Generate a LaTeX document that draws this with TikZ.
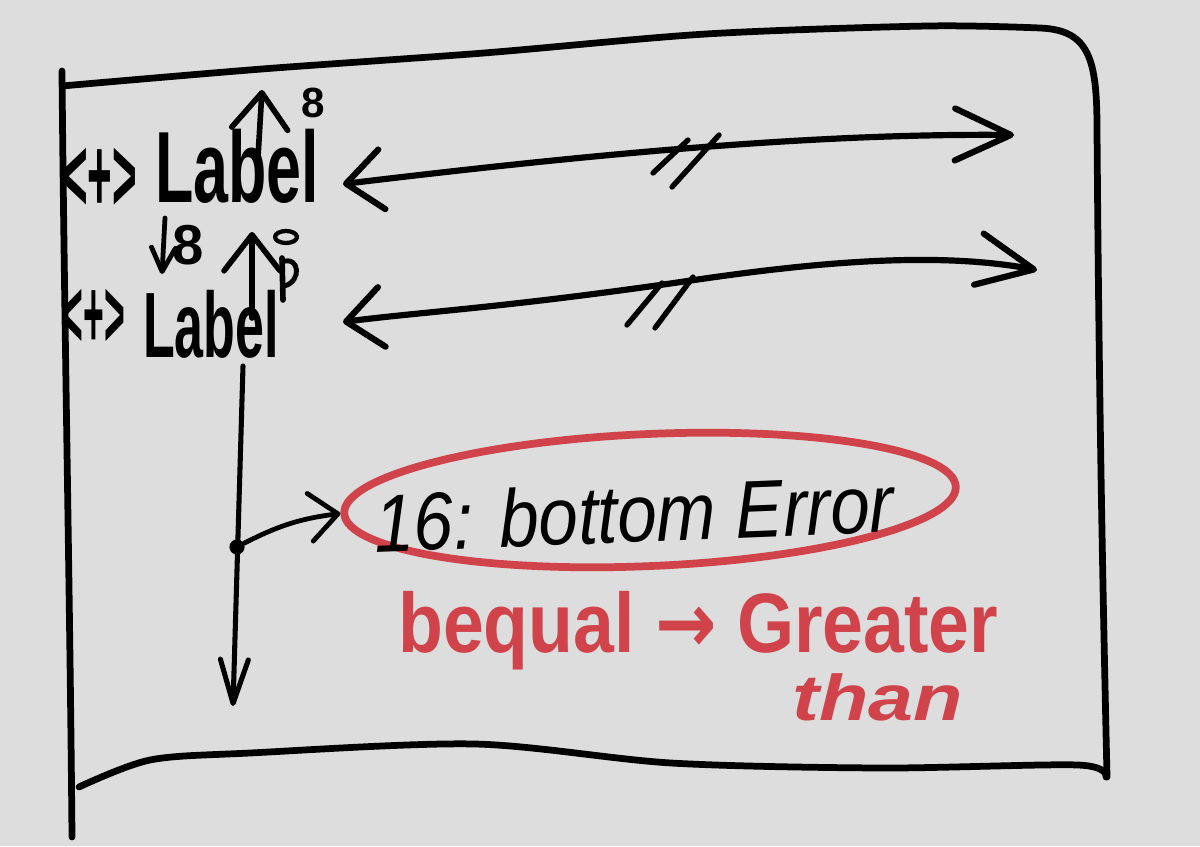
\documentclass[tikz,border=0pt]{standalone}
\usepackage{fontspec}
\setmainfont{Liberation Sans}
\newfontfamily\arrowfont{DejaVu Sans}
\usepackage{tikz}
\usetikzlibrary{arrows.meta,shapes.geometric,positioning}
\definecolor{paper}{RGB}{221,221,221}
\definecolor{crayon}{RGB}{208,67,74}
\tikzset{
    pen/.style={line width=4.8pt, line cap=round, line join=round, black},
    link/.style={pen, line width=4.4pt, {Straight Barb[round, length=9mm, width=15mm]}-{Straight Barb[round, length=14mm, width=13mm]}},
    upmark/.style={pen, line width=4pt, -{Straight Barb[round, length=9mm, width=14mm]}},
    flow/.style={pen, line width=3.6pt, -{Straight Barb[round, length=11mm, width=7mm]}},
    word/.style={inner sep=0pt, font=\fontsize{72}{72}\selectfont\bfseries},
    smallmark/.style={inner sep=0pt, font=\fontsize{40}{40}\selectfont\bfseries},
    ring/.style={draw=crayon, ellipse, line width=5.5pt},
    note/.style={inner sep=0pt, text=crayon, font=\fontsize{60}{60}\selectfont\bfseries}
}

\begin{document}
\begin{tikzpicture}[x=0.025cm, y=-0.025cm]
    \fill[paper] (0,0) rectangle (1200,846);
    \useasboundingbox (0,0) rectangle (1200,846);

    % frame
    \draw[pen] plot[smooth] coordinates {(62,86) (262,69) (484,53) (706,34) (928,26) (1040,28)}
        .. controls (1090,30) and (1097,60) .. (1097,130)
        .. controls (1099,400) and (1103,600) .. (1107,777);
    \draw[pen] plot[smooth] coordinates {(79,787) (150,760) (250,753) (475,744) (671,763) (882,768) (1078,765) (1106,777)};
    \draw[pen] (62,71) .. controls (64,300) and (70,600) .. (72,837);

    % labels
    \node[word, xscale=0.62, anchor=base west] (top) at (155,203) {Label};
    \node[word, font=\fontsize{66}{66}\selectfont\bfseries, xscale=0.56, anchor=base west] (low) at (143,357) {Label};
    \node[smallmark, font=\fontsize{50}{50}\selectfont\bfseries, xscale=0.6, yscale=1.5] (sidea) at (100,180) {<+>};
    \node[smallmark, font=\fontsize{46}{46}\selectfont\bfseries, xscale=0.55, yscale=1.5] (sideb) at (94,318) {<+>};
    \node[smallmark, font=\fontsize{30}{30}\selectfont\bfseries] (marka) at (313,103) {8};
    \node[smallmark, font=\fontsize{40}{40}\selectfont\bfseries] (markb) at (188,245) {8};
    \draw[pen, line width=3pt] (286,237) ellipse (11 and 6);
    \draw[pen, line width=4pt] (282,258) -- (283,300);
    \draw[pen, line width=3.5pt] (282,262) .. controls (300,255) and (302,282) .. (284,286);

    % small arrows
    \coordinate (ua1) at (258,157);
    \coordinate (ua2) at (262,90);
    \coordinate (ub1) at (252,318);
    \coordinate (ub2) at (252,232);
    \coordinate (da1) at (165,218);
    \coordinate (da2) at (162,274);
    \draw[upmark] (ua1) -- (ua2);
    \draw[upmark] (ub1) -- (ub2);
    \draw[pen, line width=3.4pt, -{Straight Barb[round, length=6mm, width=6mm]}] (da1) -- (da2);

    % long arrows
    \coordinate (r1l) at (343,184);
    \coordinate (r1r) at (1014,135);
    \coordinate (r2l) at (343,322);
    \coordinate (r2r) at (1037,270);
    \draw[link] (r1l) .. controls (560,158) and (800,133) .. (r1r);
    \draw[link] (r2l) .. controls (420,312) and (500,308) .. (674,283) .. controls (800,264) and (930,250) .. (r2r);
    \foreach \a/\b/\c/\d in {653/173/688/140, 672/187/719/135, 627/325/662/283, 655/328/693/277}
        \draw[pen, line width=3.8pt] (\a,\b) -- (\c,\d);

    % error branch
    \coordinate (vtop) at (243,366);
    \coordinate (vend) at (233,706);
    \node[circle, fill=black, inner sep=0pt, minimum size=0.38cm] (dot) at (237,547) {};
    \draw[flow] (vtop) -- (vend);
    \node[ring, minimum width=15.3cm, minimum height=3.3cm, rotate=2.5] (loop) at (650,500) {};
    \node[inner sep=0pt, font=\fontsize{58}{58}\selectfont\itshape, xscale=0.87, rotate=2] (err) at (634,513) {16: bottom Error};
    \draw[pen, line width=3.4pt, -{Straight Barb[round, length=7mm, width=12mm]}] (dot) to[bend left=10] (loop.west);

    \node[note, xscale=0.87, anchor=base west] (cond) at (398,652) {bequal {\arrowfont →} Greater};
    \node[note, font=\fontsize{46}{46}\selectfont\bfseries\itshape, xscale=1.25, anchor=base west] (than) at (792,720) {than};
\end{tikzpicture}
\end{document}
